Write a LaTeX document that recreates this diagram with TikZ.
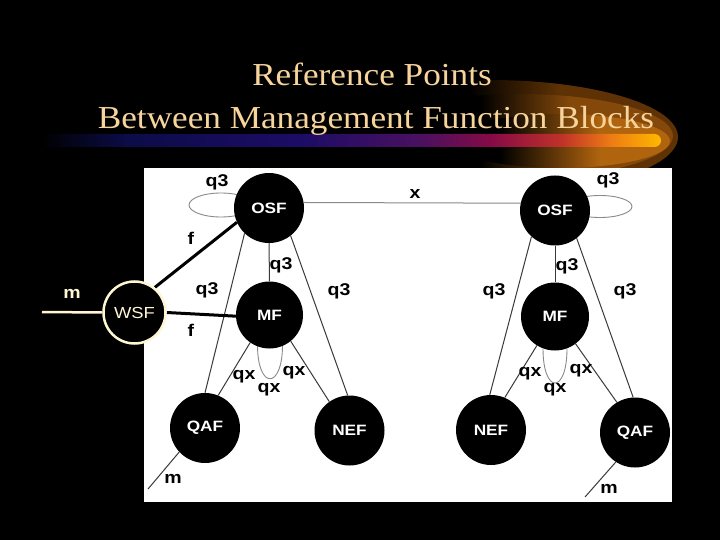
\documentclass[tikz,border=0pt]{standalone}
\usepackage{fontspec}
\setmainfont{Liberation Serif}
\newfontfamily\titlefont[FakeStretch=1.1]{Liberation Serif}
\newfontfamily\lblfont[FakeStretch=1.15]{Liberation Sans}
\usetikzlibrary{calc}
\pgfdeclarelayer{back}
\pgfdeclarelayer{mid}
\pgfsetlayers{back,mid,main}
\definecolor{titlecol}{HTML}{F6D49C}
\definecolor{cream}{HTML}{FFF6D2}
\definecolor{linegray}{HTML}{3A3A3A}
\definecolor{loopgray}{HTML}{8A8A8A}
\definecolor{bnavy}{HTML}{0C0C48}
\definecolor{bblue}{HTML}{1C0C66}
\definecolor{bpurple}{HTML}{4A1060}
\definecolor{bcrimson}{HTML}{860A46}
\definecolor{bred}{HTML}{C03228}
\definecolor{borange}{HTML}{EE7C14}
\definecolor{byellow}{HTML}{FFB800}
\definecolor{glowa}{HTML}{5E3204}
\definecolor{glowb}{HTML}{84480A}
\definecolor{glowc}{HTML}{B0640E}
\pgfdeclarehorizontalshading{barshade}{100bp}{color(0bp)=(black); color(25bp)=(black); color(32bp)=(bnavy); color(46bp)=(bblue); color(55.6bp)=(bpurple); color(61.3bp)=(bcrimson); color(67bp)=(bred); color(71bp)=(borange); color(75bp)=(byellow); color(100bp)=(byellow)}
\pgfdeclarehorizontalshading{glowshA}{100bp}{color(0bp)=(black); color(47.3bp)=(black); color(59.3bp)=(glowa); color(100bp)=(glowa)}
\pgfdeclarehorizontalshading{glowshB}{100bp}{color(0bp)=(black); color(43.5bp)=(black); color(58.2bp)=(glowb); color(100bp)=(glowb)}
\pgfdeclarehorizontalshading{glowshC}{100bp}{color(0bp)=(black); color(36.4bp)=(black); color(59.1bp)=(glowc); color(100bp)=(glowc)}
\tikzset{
  fb/.style={circle, fill=black, minimum size=70pt, inner sep=0pt, text=white,
    font=\lblfont\bfseries\fontsize{15}{15}\selectfont},
  lbl/.style={inner sep=0pt, text=black, font=\lblfont\bfseries\fontsize{17}{17}\selectfont},
  conn/.style={draw=linegray, line width=1pt},
  fconn/.style={draw=black, line width=3pt},
  xconn/.style={draw=loopgray, line width=1pt},
  loopst/.style={draw=loopgray, line width=0.9pt},
  mconn/.style={draw=cream, line width=2.5pt}
}
\begin{document}
\begin{tikzpicture}[x=1pt,y=-1pt]
\useasboundingbox (0,0) rectangle (720,540);
\begin{pgfonlayer}{back}
\fill[black] (0,0) rectangle (720,540);
\shade[shading=glowshA] (490,137) ellipse [x radius=188, y radius=57];
\shade[shading=glowshB] (520,136) ellipse [x radius=153, y radius=42];
\shade[shading=glowshC] (560,141) ellipse [x radius=110, y radius=27];
\shade[shading=barshade, rounded corners=6.5pt] (40,134) rectangle (661,147);
\fill[white] (144,168) rectangle (672,502);
\end{pgfonlayer}
\node[anchor=base, text=titlecol, font=\titlefont\fontsize{32}{32}\selectfont] (t1) at (372,86) {Reference Points};
\node[anchor=base, text=titlecol, font=\titlefont\fontsize{32}{32}\selectfont] (t2) at (376,129) {Between Management Function Blocks};
% function blocks
\node[fb] (osfl) at (269,208) {OSF};
\node[fb, minimum size=67pt] (mfl) at (269.5,315) {MF};
\node[fb] (qafl) at (205,428) {QAF};
\node[fb] (nefl) at (349.5,430.5) {NEF};
\node[fb] (osfr) at (555,210.5) {OSF};
\node[fb, minimum size=68pt] (mfr) at (555,316.5) {MF};
\node[fb] (nefr) at (491,430) {NEF};
\node[fb] (qafr) at (635,432.5) {QAF};
\node[circle, fill=black, draw=cream, line width=2.5pt, minimum size=62pt, inner sep=0pt, text=cream,
  font=\lblfont\fontsize{16}{16}\selectfont] (wsf) at (134.5,312.5) {WSF};
\coordinate (m0) at (42,312);
\coordinate (ml) at (148,489);
\coordinate (mr) at (585,497);
\begin{pgfonlayer}{mid}
\draw[loopst] ($(osfl)+(-48,-3)$) ellipse [x radius=32, y radius=12];
\draw[loopst] ($(osfr)+(45,-4)$) ellipse [x radius=32, y radius=11];
\draw[loopst] ($(mfl)+(-12,30)$) .. controls ($(mfl)+(-12,75)$) and ($(mfl)+(13,75)$) .. ($(mfl)+(13,30)$);
\draw[loopst] ($(mfr)+(-12,32)$) .. controls ($(mfr)+(-12,78)$) and ($(mfr)+(12,78)$) .. ($(mfr)+(12,32)$);
\draw[xconn] (osfl.9) -- (osfr.168);
\draw[conn] (osfl.270) -- (mfl.90);
\draw[conn] (osfl.226) -- (qafl.90);
\draw[conn] (osfl.308) -- (nefl.93);
\draw[conn] (mfl.235) -- (qafl.68);
\draw[conn] (mfl.309) -- (nefl.125);
\draw[conn] (osfr.270) -- (mfr.90);
\draw[conn] (osfr.228) -- (nefr.92);
\draw[conn] (osfr.308) -- (qafr.93);
\draw[conn] (mfr.238) -- (nefr.67);
\draw[conn] (mfr.307) -- (qafr.121);
\draw[conn] (qafl.223) -- (ml);
\draw[conn] (qafr.237) -- (mr);
\draw[fconn] (wsf.51) -- (osfl.204);
\draw[fconn] (wsf.0) -- (mfl.182);
\draw[mconn] (wsf.180) -- (m0);
\end{pgfonlayer}
% labels
\node[lbl] (a1) at (217,182) {q3};
\node[lbl] (a2) at (281,265) {q3};
\node[lbl] (a3) at (207,290) {q3};
\node[lbl] (a4) at (339,291) {q3};
\node[lbl] (a5) at (608,180) {q3};
\node[lbl] (a6) at (567,266) {q3};
\node[lbl] (a7) at (494,291) {q3};
\node[lbl] (a8) at (625,291) {q3};
\node[lbl] (ax) at (415,194) {x};
\node[lbl] (f1) at (191,238) {f};
\node[lbl] (f2) at (191,330) {f};
\node[lbl] (b1) at (244,377) {qx};
\node[lbl] (b2) at (294,373) {qx};
\node[lbl] (b3) at (269,390) {qx};
\node[lbl] (b4) at (530,374) {qx};
\node[lbl] (b5) at (581,371) {qx};
\node[lbl] (b6) at (555,390) {qx};
\node[lbl] (c1) at (173,479) {m};
\node[lbl] (c2) at (609,489) {m};
\node[lbl, text=cream] (c0) at (72,294) {m};
\end{tikzpicture}
\end{document}
